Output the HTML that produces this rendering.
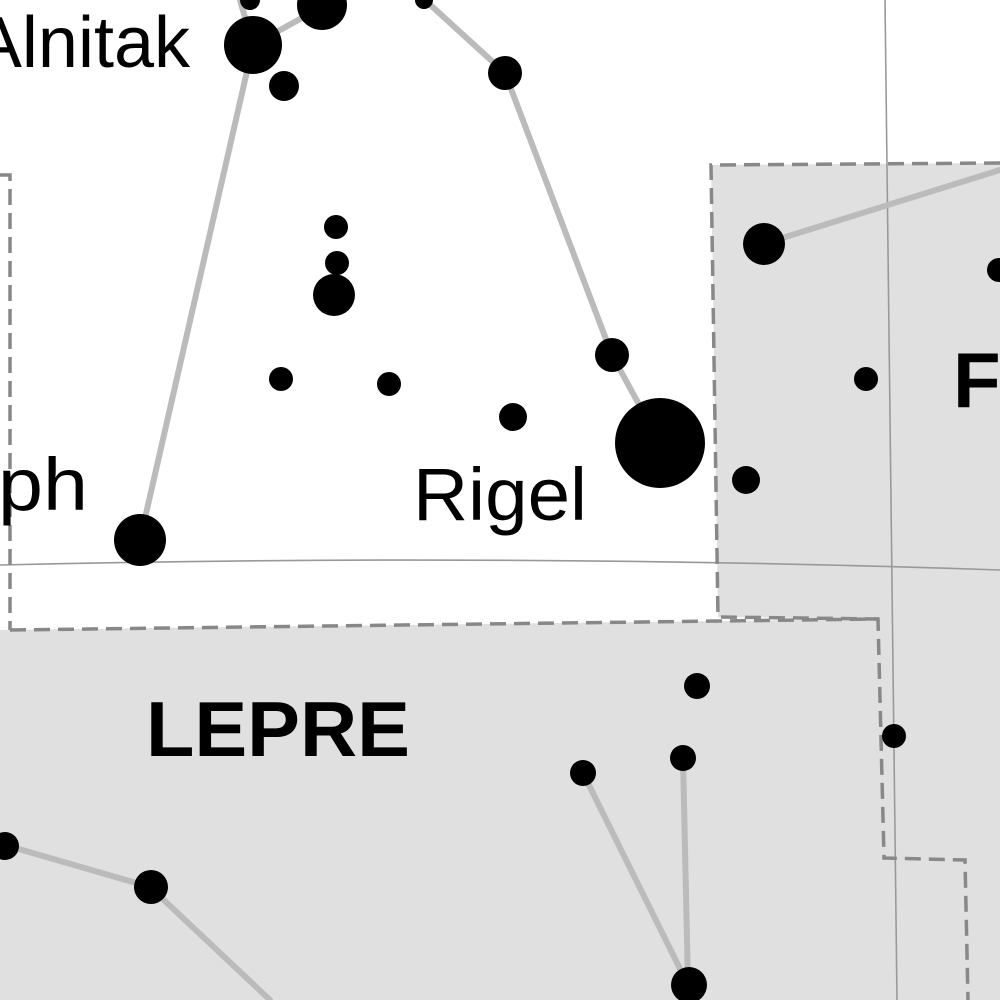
<!DOCTYPE html>
<html><head><meta charset="utf-8"><style>html,body{margin:0;padding:0;background:#fff}svg{display:block}</style></head>
<body>
<svg width="1000" height="1000" viewBox="0 0 1000 1000" xmlns="http://www.w3.org/2000/svg">
<rect width="1000" height="1000" fill="#e0e0e0"/>
<polygon points="0,0 1000,0 1000,163 711,165 718,617 878,619 0,630" fill="#fff"/>
<g fill="none" stroke="#999" stroke-width="1.6">
<path d="M885,0 L897,1000"/>
<path d="M0,565 Q500,553 1000,570"/>
</g>
<g fill="none" stroke="#888" stroke-width="3.5" stroke-dasharray="16,8">
<path d="M1000,163 L711,165 L718,617 L878,619"/>
<path d="M10,630 L878,619 L884,858 L965,860 L968,1000"/>
<path d="M0,175 L10,175 L10,630"/>
</g>
<g stroke="#bbb" stroke-width="6" stroke-linecap="round">
<line x1="253" y1="45" x2="140" y2="540"/>
<line x1="253" y1="45" x2="320" y2="8"/>
<line x1="240" y1="0" x2="253" y2="45"/>
<line x1="425" y1="0" x2="505" y2="73"/>
<line x1="505" y1="73" x2="612" y2="355"/>
<line x1="612" y1="355" x2="660" y2="443"/>
<line x1="763" y1="244" x2="1000" y2="170"/>
<line x1="5" y1="845" x2="150" y2="887"/>
<line x1="150" y1="887" x2="270" y2="1000"/>
<line x1="583" y1="773" x2="688" y2="985"/>
<line x1="683" y1="758" x2="688" y2="985"/>
</g>
<g fill="#000">
<circle cx="253" cy="45" r="29"/><circle cx="322" cy="5" r="25"/><circle cx="250" cy="0" r="10"/>
<circle cx="424" cy="0" r="9"/><circle cx="284" cy="86" r="15"/><circle cx="505" cy="73" r="17"/>
<circle cx="336" cy="227" r="12"/><circle cx="337" cy="263" r="12"/><circle cx="334" cy="295" r="21"/>
<circle cx="281" cy="379" r="12"/><circle cx="389" cy="384" r="12"/><circle cx="513" cy="417" r="14"/>
<circle cx="612" cy="355" r="17"/><circle cx="660" cy="443" r="45"/><circle cx="746" cy="480" r="14"/>
<circle cx="140" cy="540" r="26"/><circle cx="764" cy="244" r="21"/><circle cx="999" cy="270" r="12"/>
<circle cx="866" cy="379" r="12"/><circle cx="697" cy="686" r="13"/><circle cx="683" cy="758" r="13"/>
<circle cx="583" cy="773" r="13"/><circle cx="894" cy="736" r="12"/><circle cx="5" cy="846" r="14"/>
<circle cx="151" cy="887" r="17"/><circle cx="689" cy="985" r="18"/>
</g>
<g font-family="Liberation Sans, sans-serif" fill="#000">
<text x="190" y="67" font-size="72" text-anchor="end">Alnitak</text>
<text x="-2" y="510" font-size="74" textLength="90" lengthAdjust="spacingAndGlyphs">ph</text>
<text x="413" y="520" font-size="74" textLength="174" lengthAdjust="spacingAndGlyphs">Rigel</text>
<text x="146" y="756" font-size="78" font-weight="bold" textLength="264" lengthAdjust="spacingAndGlyphs">LEPRE</text>
<text x="953" y="407" font-size="78" font-weight="bold">F</text>
</g>
</svg>
</body></html>
